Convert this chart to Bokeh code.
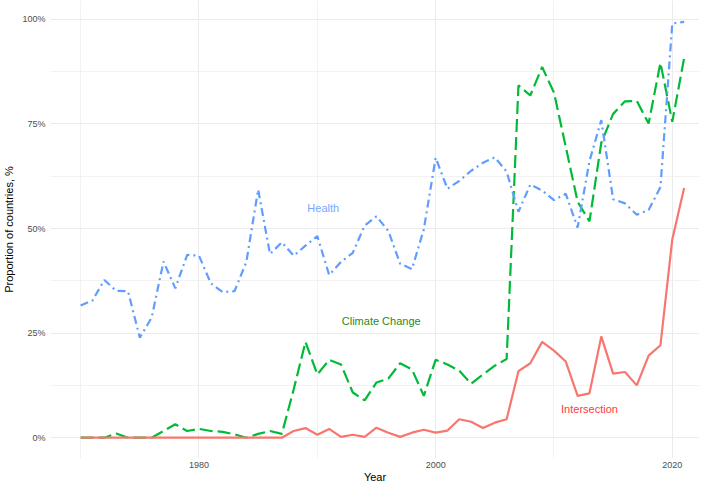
from bokeh.plotting import figure
from bokeh.models import Range1d, SingleIntervalTicker, CustomJSTickFormatter, ColumnDataSource
from bokeh.core.properties import value
from bokeh.embed import file_html
from bokeh.resources import INLINE

years = list(range(1970, 2022))

health = [31.6, 32.8, 37.7, 35.1, 35.0, 23.9, 28.7, 42.1, 35.7, 43.7,
          43.5, 36.9, 34.8, 35.0, 42.0, 59.3, 43.9, 46.7, 43.5, 45.9,
          48.2, 38.9, 42.0, 44.2, 50.7, 52.9, 49.4, 41.6, 40.3, 49.8,
          66.9, 59.5, 61.4, 63.8, 65.7, 67.0, 63.6, 54.0, 60.5, 59.1,
          56.8, 58.3, 50.2, 66.1, 75.9, 57.0, 56.0, 53.3, 54.4, 59.9,
          99.0, 99.4]

climate = [0.0, 0.0, 0.0, 1.0, 0.0, 0.0, 0.0, 1.6, 3.2, 1.6,
           2.1, 1.6, 1.4, 0.8, 0.0, 0.9, 1.6, 0.9, 11.5, 22.9,
           15.1, 18.6, 17.5, 10.8, 8.9, 13.2, 14.1, 17.8, 16.3, 10.0,
           18.6, 17.5, 16.0, 12.9, 15.1, 17.2, 18.8, 84.2, 81.8, 88.6,
           82.5, 69.5, 56.4, 51.7, 70.5, 77.4, 80.4, 80.5, 75.1, 89.6,
           75.5, 90.7]

intersection = [0.0, 0.0, 0.0, 0.0, 0.0, 0.0, 0.0, 0.0, 0.0, 0.0,
                0.0, 0.0, 0.0, 0.0, 0.0, 0.0, 0.0, 0.0, 1.6, 2.3,
                0.7, 2.1, 0.2, 0.7, 0.2, 2.4, 1.2, 0.2, 1.2, 1.9,
                1.2, 1.7, 4.4, 3.8, 2.3, 3.6, 4.4, 15.9, 17.8, 22.9,
                20.8, 18.2, 10.0, 10.6, 24.2, 15.3, 15.7, 12.5, 19.6, 22.1,
                47.4, 59.7]

label_names = ["Health", "Climate Change", "Intersection"]
label_x = [1990.5, 1995.4, 2013.0]
label_y = [54.8, 28.0, 6.9]
label_colors = ["#76A6FF", "#1E8C1E", "#FF3A3A"]

FONT = "Liberation Sans"
X0, X1 = 1967.45, 2022.3

p = figure(width=699, height=485, output_backend="svg", toolbar_location=None,
           x_range=Range1d(X0, X1), y_range=Range1d(-4.975, 104.5),
           min_border_left=0, min_border_right=0, min_border_top=0, min_border_bottom=0)
p.outline_line_color = None
p.background_fill_color = "white"
p.border_fill_color = "white"

src = ColumnDataSource(dict(year=years, health=health, climate=climate, inter=intersection))

p.line("year", "climate", source=src, line_color="#00BA38", line_width=2.2, line_dash="13 5")
p.line("year", "health", source=src, line_color="#619CFF", line_width=2.2, line_dash="8 4 2 4")
p.line("year", "inter", source=src, line_color="#F8766D", line_width=2.2)

lab = ColumnDataSource(dict(x=label_x, y=label_y, t=label_names, c=label_colors))
p.text("x", "y", text="t", source=lab, text_color="c", text_align="center",
       text_baseline="middle", text_font_size="11px", text_font=value(FONT))

p.xaxis.ticker = SingleIntervalTicker(interval=20, num_minor_ticks=2)
p.yaxis.ticker = SingleIntervalTicker(interval=25, num_minor_ticks=2)
p.yaxis.formatter = CustomJSTickFormatter(code="return tick + '%';")

for ax in (p.xaxis, p.yaxis):
    ax.axis_line_color = None
    ax.major_tick_line_color = None
    ax.minor_tick_line_color = None
    ax.major_tick_out = 0
    ax.major_tick_in = 0
    ax.minor_tick_out = 0
    ax.minor_tick_in = 0
    ax.major_label_text_font = FONT
    ax.major_label_text_font_size = "9px"
    ax.major_label_text_color = "#4D4D4D"
    ax.axis_label_text_font = FONT
    ax.axis_label_text_font_size = "11px"
    ax.axis_label_text_font_style = "normal"
    ax.axis_label_text_color = "black"

p.xaxis.axis_label = "Year"
p.yaxis.axis_label = "Proportion of countries, %"
p.xaxis.major_label_standoff = 3
p.yaxis.major_label_standoff = 5
p.xaxis.axis_label_standoff = 0
p.yaxis.axis_label_standoff = 4
p.xaxis.major_label_text_line_height = 0.6
p.xaxis.axis_label_text_line_height = 0.6

for g in (p.xgrid, p.ygrid):
    g.grid_line_color = "#EBEBEB"
    g.grid_line_width = 1
    g.minor_grid_line_color = "#EFEFEF"
    g.minor_grid_line_width = 0.8

open("out.html", "w").write(file_html(p, INLINE))
